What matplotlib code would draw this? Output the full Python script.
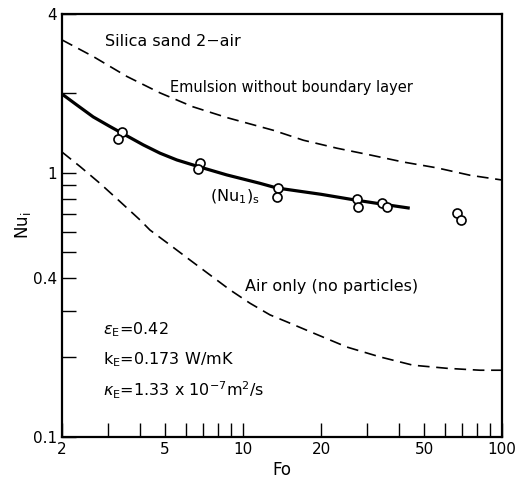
import numpy as np
import matplotlib
matplotlib.use('Agg')
from matplotlib import pyplot as plt

# curves (Fo, Nu_i)
fo_emul = [2, 2.64, 3.56, 4.78, 6.41, 8.67, 13.1, 17.1, 23.1, 30.9, 41.5, 56.1, 75.2, 100]
nu_emul = [3.19, 2.76, 2.32, 2.01, 1.78, 1.62, 1.45, 1.33, 1.24, 1.17, 1.10, 1.045, 0.98, 0.94]

fo_solid = [2, 2.28, 2.64, 3.06, 4.12, 4.78, 5.55, 6.72, 8.65, 11.6, 13.5, 20, 27, 35, 43.4]
nu_solid = [1.99, 1.81, 1.63, 1.50, 1.277, 1.188, 1.12, 1.057, 0.983, 0.914, 0.877, 0.83, 0.79, 0.76, 0.737]

fo_air = [2, 2.35, 2.8, 3.35, 4.0, 4.37, 5.22, 6.24, 7.45, 8.91, 10.64, 12.71, 14.75,
          18.6, 25.2, 33.8, 45.3, 61.3, 82.2, 100]
nu_air = [1.2, 1.057, 0.914, 0.779, 0.664, 0.608, 0.534, 0.468, 0.411, 0.3605, 0.321, 0.29, 0.273,
          0.248, 0.219, 0.201, 0.187, 0.182, 0.179, 0.179]

# measured points
fo_pts = [3.4, 3.3, 6.8, 6.7, 13.6, 13.5, 27.5, 27.8, 34.5, 36, 67, 69.5]
nu_pts = [1.43, 1.345, 1.09, 1.035, 0.877, 0.81, 0.797, 0.743, 0.77, 0.743, 0.705, 0.664]

xticks = [2, 5, 10, 20, 50, 100]
yticks = [0.1, 0.4, 1, 4]
xminor = [3, 4, 6, 7, 8, 9, 30, 40, 60, 70, 80, 90]
yminor = [0.2, 0.3, 0.5, 0.6, 0.7, 0.8, 0.9, 2]

plt.rcParams['font.family'] = ['DejaVu Sans']
plt.rcParams['mathtext.fontset'] = 'dejavusans'

fig = plt.figure(figsize=(5.23, 4.78), dpi=100)
ax = fig.add_axes([0.1185, 0.0858, 0.8415, 0.885])

dash = (0, (7, 4))
ax.plot(fo_emul, nu_emul, color='black', lw=1.2, linestyle=dash)
ax.plot(fo_air, nu_air, color='black', lw=1.2, linestyle=dash)
ax.plot(fo_solid, nu_solid, color='black', lw=2.3)
ax.plot(fo_pts, nu_pts, 'o', ms=6.5, mfc='white', mec='black', mew=1.2)

ax.set_xscale('log')
ax.set_yscale('log')
ax.set_xlim(2, 100)
ax.set_ylim(0.1, 4)

ax.set_xticks(xticks)
ax.set_xticklabels([str(t) for t in xticks])
ax.set_xticks(xminor, minor=True)
ax.set_xticklabels([], minor=True)
ax.set_yticks(yticks)
ax.set_yticklabels(['0.1', '0.4', '1', '4'])
ax.set_yticks(yminor, minor=True)
ax.set_yticklabels([], minor=True)

ax.tick_params(which='both', direction='in', length=10, width=1.0,
               top=False, right=False, labelsize=11)
for s in ax.spines.values():
    s.set_linewidth(1.6)

ax.set_xlabel('Fo', fontsize=12, labelpad=3)
ax.set_ylabel(r'Nu$_\mathrm{i}$', fontsize=12, labelpad=0)

tkw = dict(transform=ax.transAxes, fontsize=11.5, va='center')
ax.text(0.098, 0.934, 'Silica sand 2\u2212air', **tkw)
ax.text(0.245, 0.825, 'Emulsion without boundary layer',
        transform=ax.transAxes, fontsize=10.5, va='center')
ax.text(0.336, 0.567, r'(Nu$_\mathrm{1}$)$_\mathrm{s}$', **tkw)
ax.text(0.416, 0.355, 'Air only (no particles)', **tkw)
ax.text(0.093, 0.253, r'$\epsilon_\mathrm{E}$=0.42', **tkw)
ax.text(0.093, 0.184, r'k$_\mathrm{E}$=0.173 W/mK', **tkw)
ax.text(0.093, 0.111, r'$\kappa_\mathrm{E}$=1.33 x 10$^{-7}$m$^2$/s', **tkw)

plt.savefig('out.png', dpi=100)
